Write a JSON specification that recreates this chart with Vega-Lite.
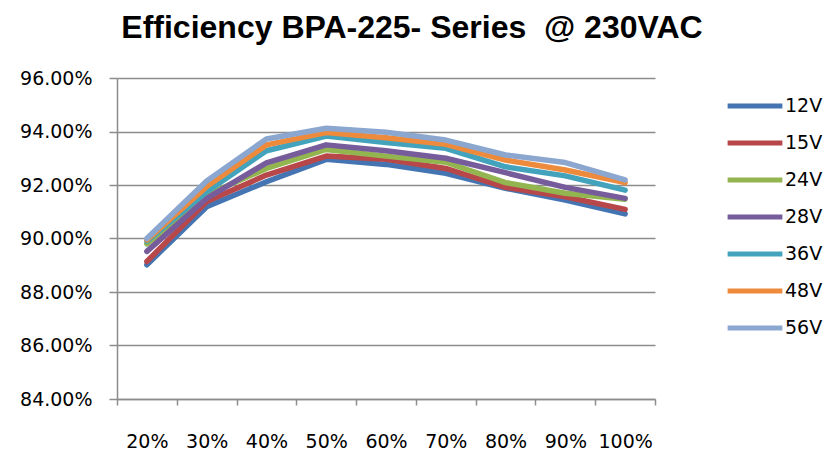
{
  "$schema": "https://vega.github.io/schema/vega-lite/v6.json",
  "width": 538,
  "height": 321,
  "autosize": {"type": "none"},
  "padding": {"left": 117, "top": 78, "right": 176, "bottom": 54},
  "background": "white",
  "title": {
    "text": "Efficiency BPA-225- Series \u00a0@ 230VAC",
    "font": "Liberation Sans",
    "fontSize": 32,
    "fontWeight": "bold",
    "color": "#000000",
    "anchor": "middle",
    "dx": 26,
    "offset": 24
  },
  "config": {
    "view": {"stroke": null},
    "font": "DejaVu Sans"
  },
  "data": {
    "values": [
      {"load": "20%", "pct": 20, "series": "12V", "eff": 0.8902},
      {"load": "30%", "pct": 30, "series": "12V", "eff": 0.9119},
      {"load": "40%", "pct": 40, "series": "12V", "eff": 0.9212},
      {"load": "50%", "pct": 50, "series": "12V", "eff": 0.9296},
      {"load": "60%", "pct": 60, "series": "12V", "eff": 0.9277},
      {"load": "70%", "pct": 70, "series": "12V", "eff": 0.9244},
      {"load": "80%", "pct": 80, "series": "12V", "eff": 0.9188},
      {"load": "90%", "pct": 90, "series": "12V", "eff": 0.9144},
      {"load": "100%", "pct": 100, "series": "12V", "eff": 0.9092},

      {"load": "20%", "pct": 20, "series": "15V", "eff": 0.8914},
      {"load": "30%", "pct": 30, "series": "15V", "eff": 0.9138},
      {"load": "40%", "pct": 40, "series": "15V", "eff": 0.9237},
      {"load": "50%", "pct": 50, "series": "15V", "eff": 0.9308},
      {"load": "60%", "pct": 60, "series": "15V", "eff": 0.9296},
      {"load": "70%", "pct": 70, "series": "15V", "eff": 0.9262},
      {"load": "80%", "pct": 80, "series": "15V", "eff": 0.9191},
      {"load": "90%", "pct": 90, "series": "15V", "eff": 0.9156},
      {"load": "100%", "pct": 100, "series": "15V", "eff": 0.9109},

      {"load": "20%", "pct": 20, "series": "24V", "eff": 0.8980},
      {"load": "30%", "pct": 30, "series": "24V", "eff": 0.9163},
      {"load": "40%", "pct": 40, "series": "24V", "eff": 0.9262},
      {"load": "50%", "pct": 50, "series": "24V", "eff": 0.9333},
      {"load": "60%", "pct": 60, "series": "24V", "eff": 0.9308},
      {"load": "70%", "pct": 70, "series": "24V", "eff": 0.9285},
      {"load": "80%", "pct": 80, "series": "24V", "eff": 0.9209},
      {"load": "90%", "pct": 90, "series": "24V", "eff": 0.9169},
      {"load": "100%", "pct": 100, "series": "24V", "eff": 0.9147},

      {"load": "20%", "pct": 20, "series": "28V", "eff": 0.8952},
      {"load": "30%", "pct": 30, "series": "28V", "eff": 0.9150},
      {"load": "40%", "pct": 40, "series": "28V", "eff": 0.9283},
      {"load": "50%", "pct": 50, "series": "28V", "eff": 0.9350},
      {"load": "60%", "pct": 60, "series": "28V", "eff": 0.9328},
      {"load": "70%", "pct": 70, "series": "28V", "eff": 0.9300},
      {"load": "80%", "pct": 80, "series": "28V", "eff": 0.9246},
      {"load": "90%", "pct": 90, "series": "28V", "eff": 0.9191},
      {"load": "100%", "pct": 100, "series": "28V", "eff": 0.9150},

      {"load": "20%", "pct": 20, "series": "36V", "eff": 0.8990},
      {"load": "30%", "pct": 30, "series": "36V", "eff": 0.9175},
      {"load": "40%", "pct": 40, "series": "36V", "eff": 0.9328},
      {"load": "50%", "pct": 50, "series": "36V", "eff": 0.9383},
      {"load": "60%", "pct": 60, "series": "36V", "eff": 0.9359},
      {"load": "70%", "pct": 70, "series": "36V", "eff": 0.9337},
      {"load": "80%", "pct": 80, "series": "36V", "eff": 0.9268},
      {"load": "90%", "pct": 90, "series": "36V", "eff": 0.9234},
      {"load": "100%", "pct": 100, "series": "36V", "eff": 0.9181},

      {"load": "20%", "pct": 20, "series": "48V", "eff": 0.8995},
      {"load": "30%", "pct": 30, "series": "48V", "eff": 0.9194},
      {"load": "40%", "pct": 40, "series": "48V", "eff": 0.9350},
      {"load": "50%", "pct": 50, "series": "48V", "eff": 0.9396},
      {"load": "60%", "pct": 60, "series": "48V", "eff": 0.9377},
      {"load": "70%", "pct": 70, "series": "48V", "eff": 0.9352},
      {"load": "80%", "pct": 80, "series": "48V", "eff": 0.9293},
      {"load": "90%", "pct": 90, "series": "48V", "eff": 0.9256},
      {"load": "100%", "pct": 100, "series": "48V", "eff": 0.9209},

      {"load": "20%", "pct": 20, "series": "56V", "eff": 0.9000},
      {"load": "30%", "pct": 30, "series": "56V", "eff": 0.9215},
      {"load": "40%", "pct": 40, "series": "56V", "eff": 0.9372},
      {"load": "50%", "pct": 50, "series": "56V", "eff": 0.9412},
      {"load": "60%", "pct": 60, "series": "56V", "eff": 0.9397},
      {"load": "70%", "pct": 70, "series": "56V", "eff": 0.9368},
      {"load": "80%", "pct": 80, "series": "56V", "eff": 0.9312},
      {"load": "90%", "pct": 90, "series": "56V", "eff": 0.9284},
      {"load": "100%", "pct": 100, "series": "56V", "eff": 0.9219}
    ]
  },
  "mark": {"type": "line", "strokeWidth": 5.5, "strokeCap": "round", "strokeJoin": "round"},
  "encoding": {
    "x": {
      "field": "load",
      "type": "ordinal",
      "sort": ["20%", "30%", "40%", "50%", "60%", "70%", "80%", "90%", "100%"],
      "scale": {"type": "band", "paddingInner": 0, "paddingOuter": 0},
      "axis": {
        "title": null,
        "labelAngle": 0,
        "labelFont": "DejaVu Sans",
        "labelFontSize": 19,
        "labelColor": "#000000",
        "labelPadding": 27,
        "tickBand": "extent",
        "tickSize": 6,
        "tickColor": "#8c8c8c",
        "tickWidth": 1.5,
        "domainColor": "#8c8c8c",
        "domainWidth": 1.5,
        "grid": false
      }
    },
    "y": {
      "field": "eff",
      "type": "quantitative",
      "scale": {"domain": [0.84, 0.96], "nice": false, "zero": false},
      "axis": {
        "title": null,
        "values": [0.84, 0.86, 0.88, 0.90, 0.92, 0.94, 0.96],
        "format": ".2%",
        "labelFont": "DejaVu Sans",
        "labelFontSize": 19,
        "labelColor": "#000000",
        "labelPadding": 17,
        "tickSize": 8,
        "tickColor": "#8c8c8c",
        "tickWidth": 1.5,
        "domainColor": "#8c8c8c",
        "domainWidth": 1.5,
        "grid": true,
        "gridColor": "#8c8c8c",
        "gridWidth": 1.5
      }
    },
    "color": {
      "field": "series",
      "type": "nominal",
      "sort": ["12V", "15V", "24V", "28V", "36V", "48V", "56V"],
      "scale": {
        "domain": ["12V", "15V", "24V", "28V", "36V", "48V", "56V"],
        "range": ["#4475B2", "#B8474A", "#93B550", "#775C9C", "#43A3BC", "#EE8A3C", "#8BA6CF"]
      },
      "legend": {
        "title": null,
        "orient": "none",
        "legendX": 608,
        "legendY": 18,
        "symbolType": "stroke",
        "symbolStrokeWidth": 5,
        "symbolSize": 3000,
        "clipHeight": 20,
        "rowPadding": 17,
        "labelFont": "DejaVu Sans",
        "labelFontSize": 19,
        "labelColor": "#000000",
        "labelOffset": 0
      }
    },
    "order": {"field": "pct", "type": "quantitative"}
  }
}
